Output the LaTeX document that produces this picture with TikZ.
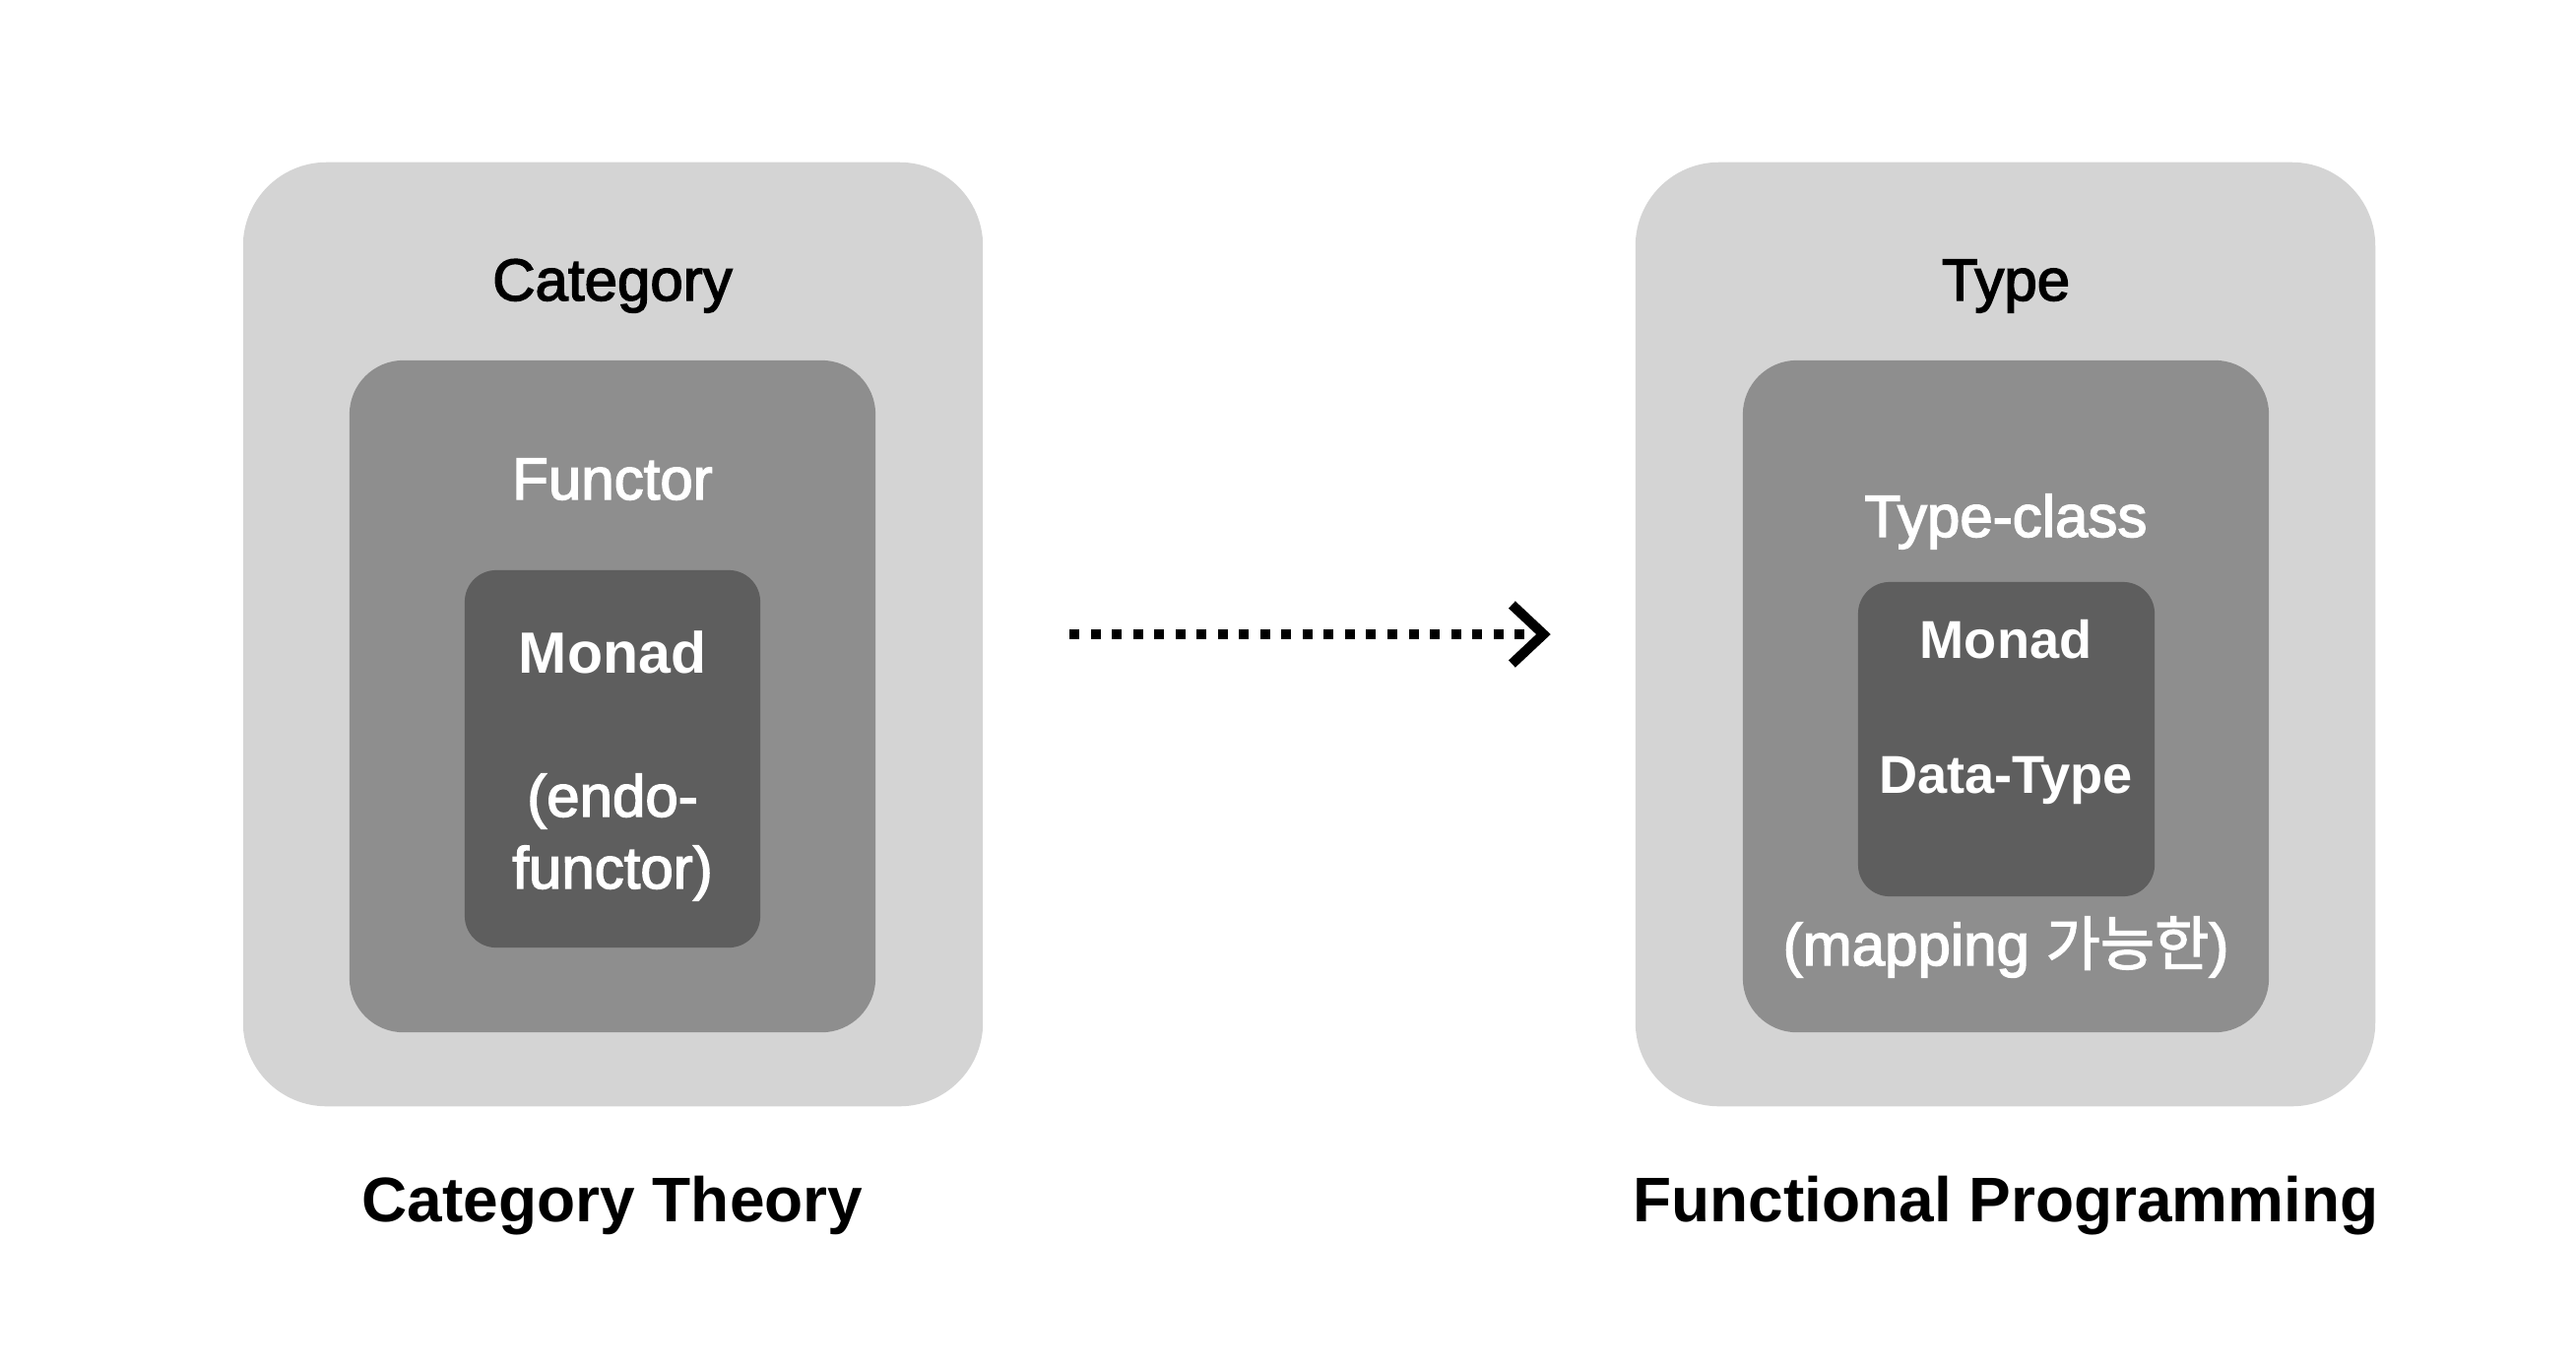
\documentclass[tikz,border=0pt]{standalone}
\usepackage{fontspec}
\setmainfont{Liberation Sans}
\newfontfamily\medf[FakeBold=2.4]{Liberation Sans}
\newfontfamily\krf[FakeBold=2.0]{Noto Sans CJK KR}
\usetikzlibrary{arrows.meta}
\definecolor{outergray}{HTML}{D4D4D4}
\definecolor{midgray}{HTML}{8E8E8E}
\definecolor{innergray}{HTML}{5E5E5E}
\tikzset{
  outerbox/.style={fill=outergray, draw=none, rounded corners=0.85cm, inner sep=0pt, outer sep=0pt, minimum width=7.51cm, minimum height=9.58cm},
  midbox/.style={fill=midgray, draw=none, rounded corners=0.55cm, inner sep=0pt, outer sep=0pt, minimum width=5.34cm, minimum height=6.82cm},
  innerbox/.style={fill=innergray, draw=none, rounded corners=0.32cm, inner sep=0pt, outer sep=0pt, minimum width=3.0cm},
  lbl/.style={anchor=base, inner sep=0pt, font=\medf\fontsize{17.07pt}{20pt}\selectfont},
  wlbl/.style={lbl, text=white},
  wbold/.style={anchor=base, inner sep=0pt, text=white, font=\bfseries\fontsize{16.8pt}{20pt}\selectfont},
  title/.style={anchor=base, inner sep=0pt, font=\bfseries\fontsize{18.2pt}{22pt}\selectfont},
  flow/.style={line width=0.1cm, dash pattern=on 0.1cm off 0.115cm, -{Straight Barb[length=0.32cm, width=0.6cm]}, shorten <=0.88cm, shorten >=0.86cm}
}
\begin{document}
\begin{tikzpicture}[x=0.01cm, y=-0.01cm]
\useasboundingbox (0,0) rectangle (2616,1390);
% left side
\node[outerbox] (lout) at (622.5,644) {};
\node[midbox] (lmid) at (622,707) {};
\node[innerbox, minimum height=3.83cm] (lin) at (622,770.5) {};
\node[lbl] (lcat) at (622,305) {Category};
\node[wlbl] (lfun) at (622,507) {Functor};
\node[wbold] (lmon) at (622,683) {Monad};
\node[wlbl] (lendo) at (622,829) {(endo-};
\node[wlbl] (lfunc) at (622,902) {functor)};
\node[title] (ltitle) at (622,1240) {Category Theory};
% right side
\node[outerbox] (rout) at (2036.5,644) {};
\node[midbox] (rmid) at (2037,707) {};
\node[innerbox, minimum height=3.19cm, minimum width=3.01cm] (rin) at (2037.5,750.5) {};
\node[lbl] (rtype) at (2037,305) {Type};
\node[wlbl] (rclass) at (2037,545) {Type-class};
\node[wbold, font=\bfseries\fontsize{15.4pt}{18pt}\selectfont] (rmon) at (2037,668) {Monad};
\node[wbold, font=\bfseries\fontsize{15.4pt}{18pt}\selectfont] (rdata) at (2037,805) {Data-Type};
\node[wlbl] (rmap) at (2037,980) {(mapping {\krf 가능한})};
\node[title] (rtitle) at (2037,1240) {Functional Programming};
% connector
\draw[flow] (lout) -- (rout);
\end{tikzpicture}
\end{document}
